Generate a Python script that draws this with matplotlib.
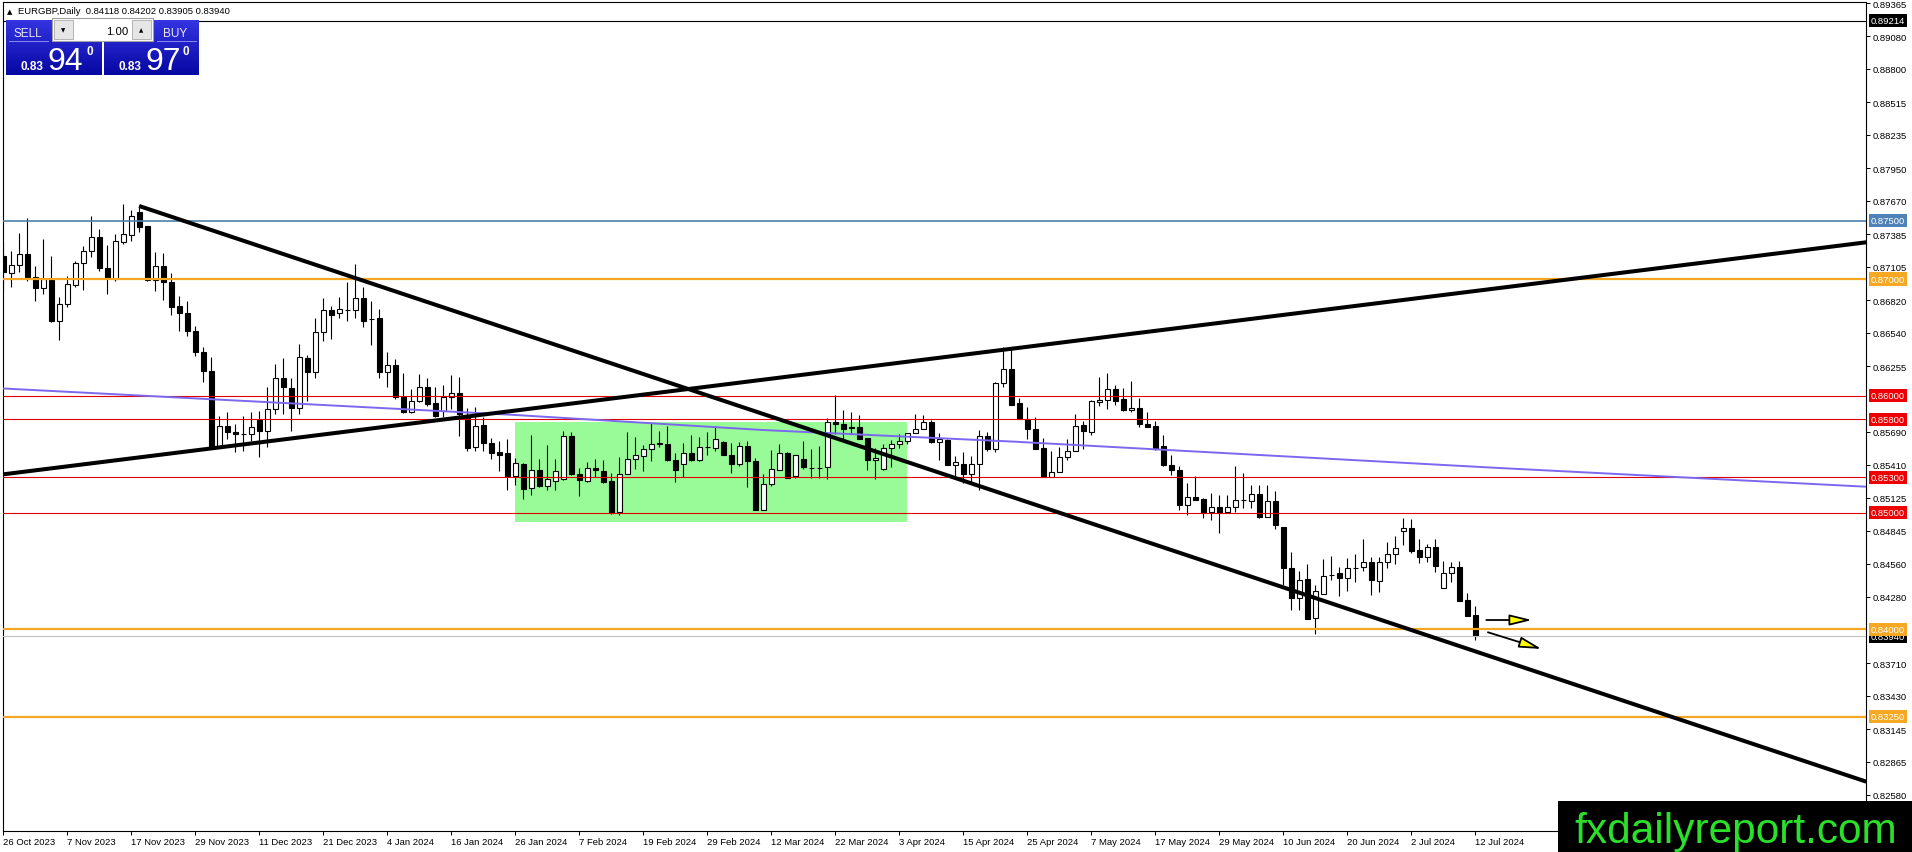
import numpy as np
import matplotlib
matplotlib.use('Agg')
import matplotlib.pyplot as plt
from matplotlib.patches import Rectangle
from matplotlib.colors import LinearSegmentedColormap

plt.rcParams['font.family'] = ['Liberation Sans', 'DejaVu Sans']

# EURGBP daily candles, 26 Oct 2023 .. 12 Jul 2024
opens = [
    0.87201, 0.87049, 0.87121, 0.87212, 0.87015, 0.86921, 0.86992, 0.86638, 0.86787, 0.86952,
    0.87138, 0.87238, 0.87358, 0.87095, 0.87001, 0.87321, 0.87380, 0.87572, 0.87452, 0.86992,
    0.87112, 0.86978, 0.86767, 0.86709, 0.86558, 0.86372, 0.86209, 0.85573, 0.85738, 0.85690,
    0.85673, 0.85670, 0.85793, 0.85695, 0.85884, 0.86149, 0.86067, 0.85893, 0.86324, 0.86207,
    0.86544, 0.86735, 0.86712, 0.86735, 0.86735, 0.86838, 0.86658, 0.86664, 0.86201, 0.86261,
    0.85993, 0.85858, 0.85958, 0.86072, 0.85935, 0.85873, 0.85993, 0.86027, 0.85830, 0.85558,
    0.85750, 0.85593, 0.85516, 0.85507, 0.85313, 0.85413, 0.85208, 0.85367, 0.85230, 0.85273,
    0.85290, 0.85659, 0.85330, 0.85273, 0.85385, 0.85359, 0.85267, 0.85005, 0.85333, 0.85462,
    0.85487, 0.85547, 0.85590, 0.85584, 0.85450, 0.85419, 0.85507, 0.85450, 0.85562, 0.85556,
    0.85607, 0.85496, 0.85416, 0.85573, 0.85444, 0.85019, 0.85241, 0.85367, 0.85513, 0.85313,
    0.85461, 0.85378, 0.85380, 0.85390, 0.85775, 0.85755, 0.85730, 0.85732, 0.85638, 0.85447,
    0.85373, 0.85553, 0.85590, 0.85612, 0.85681, 0.85718, 0.85778, 0.85604, 0.85624, 0.85407,
    0.85418, 0.85333, 0.85418, 0.85658, 0.85541, 0.86109, 0.86232, 0.85934, 0.85805, 0.85719,
    0.85554, 0.85305, 0.85343, 0.85477, 0.85528, 0.85754, 0.85691, 0.85948, 0.85962, 0.86054,
    0.85976, 0.85876, 0.85896, 0.85762, 0.85739, 0.85571, 0.85411, 0.85368, 0.85063, 0.85134,
    0.85120, 0.85006, 0.85043, 0.85006, 0.85043, 0.85106, 0.85100, 0.85157, 0.84963, 0.85101,
    0.84879, 0.84527, 0.84270, 0.84428, 0.84093, 0.84302, 0.84465, 0.84479, 0.84442, 0.84525,
    0.84530, 0.84579, 0.84416, 0.84579, 0.84645, 0.84844, 0.84870, 0.84676, 0.84622, 0.84707,
    0.84356, 0.84485, 0.84536, 0.84250, 0.84118]
highs = [
    0.87315, 0.87243, 0.87392, 0.87523, 0.87115, 0.87343, 0.87198, 0.86849, 0.87026, 0.87158,
    0.87286, 0.87540, 0.87429, 0.87292, 0.87386, 0.87643, 0.87592, 0.87635, 0.87458, 0.87229,
    0.87221, 0.87052, 0.86858, 0.86809, 0.86601, 0.86415, 0.86329, 0.85830, 0.85858, 0.85758,
    0.85830, 0.85860, 0.85873, 0.86072, 0.86272, 0.86324, 0.86152, 0.86444, 0.86352, 0.86666,
    0.86838, 0.86772, 0.86849, 0.86972, 0.87129, 0.86929, 0.86809, 0.86744, 0.86372, 0.86315,
    0.86192, 0.86058, 0.86187, 0.86149, 0.86072, 0.86090, 0.86181, 0.86164, 0.85895, 0.85907,
    0.85815, 0.85638, 0.85615, 0.85627, 0.85464, 0.85427, 0.85661, 0.85462, 0.85576, 0.85462,
    0.85701, 0.85690, 0.85385, 0.85436, 0.85462, 0.85450, 0.85342, 0.85473, 0.85687, 0.85644,
    0.85582, 0.85764, 0.85701, 0.85739, 0.85507, 0.85599, 0.85661, 0.85644, 0.85690, 0.85741,
    0.85616, 0.85593, 0.85604, 0.85613, 0.85470, 0.85333, 0.85533, 0.85584, 0.85515, 0.85495,
    0.85612, 0.85547, 0.85570, 0.85809, 0.86009, 0.85881, 0.85861, 0.85838, 0.85640, 0.85555,
    0.85590, 0.85618, 0.85675, 0.85681, 0.85847, 0.85832, 0.85789, 0.85681, 0.85630, 0.85487,
    0.85515, 0.85487, 0.85704, 0.85690, 0.86115, 0.86418, 0.86410, 0.85982, 0.85905, 0.85819,
    0.85640, 0.85525, 0.85562, 0.85634, 0.85848, 0.85782, 0.85968, 0.86162, 0.86191, 0.86091,
    0.86068, 0.86128, 0.85982, 0.85862, 0.85782, 0.85662, 0.85496, 0.85400, 0.85254, 0.85311,
    0.85125, 0.85163, 0.85154, 0.85148, 0.85397, 0.85340, 0.85234, 0.85234, 0.85234, 0.85187,
    0.84879, 0.84665, 0.84502, 0.84559, 0.84379, 0.84599, 0.84630, 0.84536, 0.84607, 0.84642,
    0.84770, 0.84622, 0.84622, 0.84745, 0.84802, 0.84956, 0.84942, 0.84770, 0.84727, 0.84773,
    0.84585, 0.84579, 0.84585, 0.84308, 0.84202]
lows = [
    0.86901, 0.86935, 0.87058, 0.86986, 0.86809, 0.86872, 0.86629, 0.86481, 0.86758, 0.86929,
    0.86906, 0.87186, 0.87066, 0.86872, 0.86986, 0.87301, 0.87329, 0.87400, 0.86986, 0.86901,
    0.86821, 0.86695, 0.86558, 0.86515, 0.86338, 0.86115, 0.85553, 0.85558, 0.85630, 0.85516,
    0.85530, 0.85610, 0.85473, 0.85558, 0.85844, 0.85844, 0.85695, 0.85844, 0.85958, 0.86152,
    0.86472, 0.86486, 0.86664, 0.86644, 0.86666, 0.86586, 0.86438, 0.86149, 0.86078, 0.85973,
    0.85850, 0.85850, 0.85944, 0.85915, 0.85821, 0.85821, 0.85887, 0.85658, 0.85530, 0.85524,
    0.85530, 0.85456, 0.85359, 0.85193, 0.85236, 0.85116, 0.85153, 0.85222, 0.85193, 0.85193,
    0.85279, 0.85322, 0.85142, 0.85265, 0.85302, 0.85256, 0.84988, 0.84976, 0.85330, 0.85373,
    0.85356, 0.85444, 0.85559, 0.85444, 0.85265, 0.85302, 0.85444, 0.85444, 0.85493, 0.85530,
    0.85490, 0.85342, 0.85399, 0.85222, 0.85020, 0.85019, 0.85224, 0.85361, 0.85298, 0.85298,
    0.85375, 0.85298, 0.85298, 0.85284, 0.85675, 0.85618, 0.85675, 0.85627, 0.85367, 0.85284,
    0.85367, 0.85390, 0.85553, 0.85590, 0.85681, 0.85712, 0.85595, 0.85453, 0.85404, 0.85298,
    0.85256, 0.85247, 0.85190, 0.85527, 0.85518, 0.86075, 0.85919, 0.85800, 0.85628, 0.85548,
    0.85305, 0.85305, 0.85343, 0.85448, 0.85525, 0.85548, 0.85662, 0.85910, 0.85891, 0.85925,
    0.85868, 0.85857, 0.85734, 0.85734, 0.85534, 0.85397, 0.85320, 0.85020, 0.84977, 0.85106,
    0.84954, 0.84934, 0.84825, 0.85000, 0.85006, 0.85040, 0.85040, 0.84954, 0.84963, 0.84859,
    0.84379, 0.84165, 0.84165, 0.84088, 0.83959, 0.84299, 0.84422, 0.84285, 0.84328, 0.84408,
    0.84502, 0.84293, 0.84322, 0.84522, 0.84556, 0.84722, 0.84650, 0.84570, 0.84579, 0.84493,
    0.84356, 0.84408, 0.84242, 0.84113, 0.83905]
closes = [
    0.87058, 0.87121, 0.87212, 0.87015, 0.86921, 0.87001, 0.86638, 0.86787, 0.86958, 0.87138,
    0.87238, 0.87358, 0.87092, 0.87009, 0.87323, 0.87383, 0.87538, 0.87443, 0.86992, 0.87112,
    0.86972, 0.86758, 0.86707, 0.86552, 0.86372, 0.86209, 0.85558, 0.85738, 0.85687, 0.85673,
    0.85676, 0.85730, 0.85695, 0.85884, 0.86149, 0.86072, 0.85893, 0.86329, 0.86207, 0.86544,
    0.86735, 0.86695, 0.86741, 0.86738, 0.86835, 0.86644, 0.86655, 0.86201, 0.86261, 0.85987,
    0.85858, 0.85958, 0.86072, 0.85930, 0.85830, 0.85993, 0.86027, 0.85844, 0.85553, 0.85744,
    0.85593, 0.85507, 0.85496, 0.85313, 0.85422, 0.85202, 0.85367, 0.85227, 0.85285, 0.85359,
    0.85659, 0.85330, 0.85279, 0.85385, 0.85364, 0.85262, 0.84999, 0.85330, 0.85462, 0.85496,
    0.85547, 0.85590, 0.85593, 0.85450, 0.85364, 0.85513, 0.85450, 0.85564, 0.85564, 0.85630,
    0.85493, 0.85416, 0.85573, 0.85444, 0.85020, 0.85247, 0.85375, 0.85513, 0.85298, 0.85495,
    0.85390, 0.85380, 0.85378, 0.85775, 0.85755, 0.85718, 0.85728, 0.85632, 0.85447, 0.85470,
    0.85553, 0.85590, 0.85612, 0.85681, 0.85718, 0.85778, 0.85604, 0.85630, 0.85404, 0.85433,
    0.85327, 0.85418, 0.85658, 0.85541, 0.86109, 0.86232, 0.85925, 0.85805, 0.85714, 0.85548,
    0.85305, 0.85348, 0.85477, 0.85528, 0.85742, 0.85697, 0.85953, 0.85968, 0.86060, 0.85956,
    0.85876, 0.85899, 0.85756, 0.85734, 0.85548, 0.85405, 0.85368, 0.85063, 0.85134, 0.85111,
    0.85000, 0.85043, 0.85000, 0.85043, 0.85111, 0.85108, 0.85157, 0.84963, 0.85100, 0.84893,
    0.84527, 0.84270, 0.84422, 0.84088, 0.84330, 0.84459, 0.84467, 0.84442, 0.84522, 0.84527,
    0.84579, 0.84422, 0.84579, 0.84645, 0.84699, 0.84870, 0.84670, 0.84622, 0.84707, 0.84542,
    0.84485, 0.84536, 0.84245, 0.84116, 0.83940]

# one date label every 8 bars
date_labels = ['26 Oct 2023', '7 Nov 2023', '17 Nov 2023', '29 Nov 2023', '11 Dec 2023',
               '21 Dec 2023', '4 Jan 2024', '16 Jan 2024', '26 Jan 2024', '7 Feb 2024',
               '19 Feb 2024', '29 Feb 2024', '12 Mar 2024', '22 Mar 2024', '3 Apr 2024',
               '15 Apr 2024', '25 Apr 2024', '7 May 2024', '17 May 2024', '29 May 2024',
               '10 Jun 2024', '20 Jun 2024', '2 Jul 2024', '12 Jul 2024']

price_ticks = [0.89365, 0.89080, 0.88800, 0.88515, 0.88235, 0.87950, 0.87670, 0.87385,
               0.87105, 0.86820, 0.86540, 0.86255, 0.85690, 0.85410, 0.85125, 0.84845,
               0.84560, 0.84280, 0.83710, 0.83430, 0.83145, 0.82865, 0.82580]

# horizontal levels drawn on the chart
levels = [0.87500, 0.87000, 0.86000, 0.85800, 0.85300, 0.85000, 0.84000, 0.83250]
level_colors = ['#4f80ad', '#f5a623', '#e00000', '#e00000', '#e00000', '#e00000', '#f5a623', '#f5a623']
level_box_colors = ['#4f83b8', '#f7a823', '#ee0000', '#ee0000', '#ee0000', '#ee0000', '#f7a823', '#f7a823']
level_widths = [1.2, 1.6, 0.8, 0.8, 0.8, 0.8, 1.6, 1.6]
ask_line = 0.89214
bid_line = 0.83940

# trendlines (bar index, price)
down_x = [17.0, 232.9]
down_y = [0.87626, 0.82694]
up_x = [0.0, 232.9]
up_y = [0.85327, 0.87315]
ma_x = [-0.4, 32.1, 63.4, 94.9, 126.4, 158.6, 187.1, 232.9]
ma_y = [0.86064, 0.85949, 0.85838, 0.85707, 0.85607, 0.85487, 0.85381, 0.85221]

# range box Jan-Apr 2024
box_x = [64.0, 112.96]
box_y = [0.84916, 0.85773]

# yellow arrows after the last candle
arrow1 = [(185.4, 0.84079), (191.1, 0.84079)]
arrow2 = [(185.6, 0.83974), (192.3, 0.83831)]

W, H = 1912, 853
fig = plt.figure(figsize=(W / 100, H / 100), dpi=100)
fig.patch.set_facecolor('white')
# plot area in pixels: x 3..1866, y 3..832
ax = fig.add_axes([3 / W, (H - 832) / H, 1863 / W, 829 / H])
ax.set_xlim(-0.02, 232.86)
ax.set_ylim(0.822715, 0.893736)

n = len(opens)
xs = np.arange(n)
o = np.array(opens); c = np.array(closes)
h = np.array(highs); l = np.array(lows)

# green range rectangle (background)
ax.add_patch(Rectangle((box_x[0], box_y[0]), box_x[1] - box_x[0], box_y[1] - box_y[0],
                       facecolor='#98fb98', edgecolor='none', zorder=0.5))

# candles
ax.vlines(xs, l, h, color='black', linewidth=0.8, zorder=2)
body_bottom = np.minimum(o, c)
body_h = np.maximum(np.abs(c - o), 0.00001)
fills = ['white' if c[i] >= o[i] else 'black' for i in range(n)]
ax.bar(xs, body_h, bottom=body_bottom, width=0.6, color=fills, edgecolor='black',
       linewidth=0.8, zorder=2.2)

# horizontal lines
ax.axhline(ask_line, color='black', linewidth=0.8, zorder=3)
ax.axhline(bid_line, color='#c0c0c0', linewidth=0.8, zorder=3)
for lv, col, lw in zip(levels, level_colors, level_widths):
    ax.axhline(lv, color=col, linewidth=lw, zorder=3)

# trendlines and the slow average
ax.plot(ma_x, ma_y, color='#7b68ee', linewidth=1.4, zorder=3)
ax.plot(down_x, down_y, color='black', linewidth=2.9, solid_capstyle='butt', zorder=3.5)
ax.plot(up_x, up_y, color='black', linewidth=2.9, solid_capstyle='butt', zorder=3.5)

for a in (arrow1, arrow2):
    ax.annotate('', xy=a[1], xytext=a[0],
                arrowprops=dict(arrowstyle='-|>,head_length=0.9,head_width=0.22',
                                facecolor='#ffff00', edgecolor='black', linewidth=1.3,
                                mutation_scale=15, shrinkA=0, shrinkB=0), zorder=4)

# axes look
for s in ax.spines.values():
    s.set_color('black')
    s.set_linewidth(0.8)
ax.set_xticks(np.arange(0, n, 8))
ax.set_xticklabels(date_labels)
for t in ax.get_xticklabels():
    t.set_horizontalalignment('left')
ax.set_yticks(price_ticks)
ax.set_yticklabels([f'{p:.5f}' for p in price_ticks])
ax.yaxis.tick_right()
ax.tick_params(axis='x', direction='out', length=3, width=0.7, pad=1, labelsize=6.8)
ax.tick_params(axis='y', direction='out', length=3, width=0.7, pad=1.5, labelsize=6.8)

# price tags on the right scale
lab_x = (1871 - 3) / 1863
tr = ax.get_yaxis_transform()
tags = [(ask_line, '#000000'), (bid_line, '#000000')] + list(zip(levels, level_box_colors))
for p, col in tags:
    ax.text(lab_x, p, f'{p:.5f}', transform=tr, color='white', fontsize=6.8,
            ha='left', va='center', clip_on=False, zorder=6,
            bbox=dict(boxstyle='square,pad=0.22', facecolor=col, edgecolor='none'))

# overlay in pixel coordinates: header, one-click panel, watermark
ov = fig.add_axes([0, 0, 1, 1], zorder=10)
ov.patch.set_alpha(0)
ov.axis('off')

ov.text(10, 12, '\u25b2', fontsize=5, ha='center', va='center', family=['DejaVu Sans'])
ov.text(18, 14, f'EURGBP,Daily  {opens[-1]:.5f} {highs[-1]:.5f} {lows[-1]:.5f} {closes[-1]:.5f}',
        fontsize=6.8, va='baseline')

grad = np.linspace(0, 1, 64).reshape(-1, 1)
cmap = LinearSegmentedColormap.from_list('panel', ['#3434e2', '#0707a2'])
for x0, x1 in [(6, 102), (104, 199)]:
    ov.imshow(grad, cmap=cmap, extent=(x0, x1, 76, 21), aspect='auto', zorder=1)
ov.plot([9, 48], [42, 42], color='#8a8af0', linewidth=0.7, zorder=2)
ov.plot([157, 196], [42, 42], color='#8a8af0', linewidth=0.7, zorder=2)

# lot size box
ov.add_patch(Rectangle((52, 19), 101, 23, facecolor='white', edgecolor='#a0a0a0', linewidth=0.8, zorder=3))
ov.add_patch(Rectangle((54, 21), 19, 19, facecolor='#e6e6e6', edgecolor='#b4b4b4', linewidth=0.7, zorder=4))
ov.add_patch(Rectangle((132, 21), 19, 19, facecolor='#e6e6e6', edgecolor='#b4b4b4', linewidth=0.7, zorder=4))
ov.text(63.5, 30.5, '\u25bc', fontsize=4, ha='center', va='center', family=['DejaVu Sans'], zorder=5)
ov.text(141.5, 30.5, '\u25b2', fontsize=4, ha='center', va='center', family=['DejaVu Sans'], zorder=5)
ov.text(128, 35, '1.00', fontsize=8.2, ha='right', va='baseline', zorder=5)

ov.text(28, 36.5, 'SELL', fontsize=8.5, color='#e8e8ff', ha='center', va='baseline', zorder=5)
ov.text(175, 36.5, 'BUY', fontsize=8.5, color='#e8e8ff', ha='center', va='baseline', zorder=5)
ov.text(32, 69.5, '0.83', fontsize=8.5, fontweight='bold', color='white', ha='center', va='baseline', zorder=5)
ov.text(65.5, 70, '94', fontsize=23, color='white', ha='center', va='baseline', zorder=5)
ov.text(90, 55, '0', fontsize=8.5, fontweight='bold', color='white', ha='center', va='baseline', zorder=5)
ov.text(130, 69.5, '0.83', fontsize=8.5, fontweight='bold', color='white', ha='center', va='baseline', zorder=5)
ov.text(163.5, 70, '97', fontsize=23, color='white', ha='center', va='baseline', zorder=5)
ov.text(186, 55, '0', fontsize=8.5, fontweight='bold', color='white', ha='center', va='baseline', zorder=5)

# watermark
ov.add_patch(Rectangle((1558, 802), 354, 51, facecolor='black', edgecolor='none', zorder=6))
ov.text(1736, 843, 'fxdailyreport.com', fontsize=30.5, color='#2be02b', ha='center', va='baseline', zorder=7)

ov.set_xlim(0, W)
ov.set_ylim(H, 0)

fig.savefig('out.png', dpi=100)
